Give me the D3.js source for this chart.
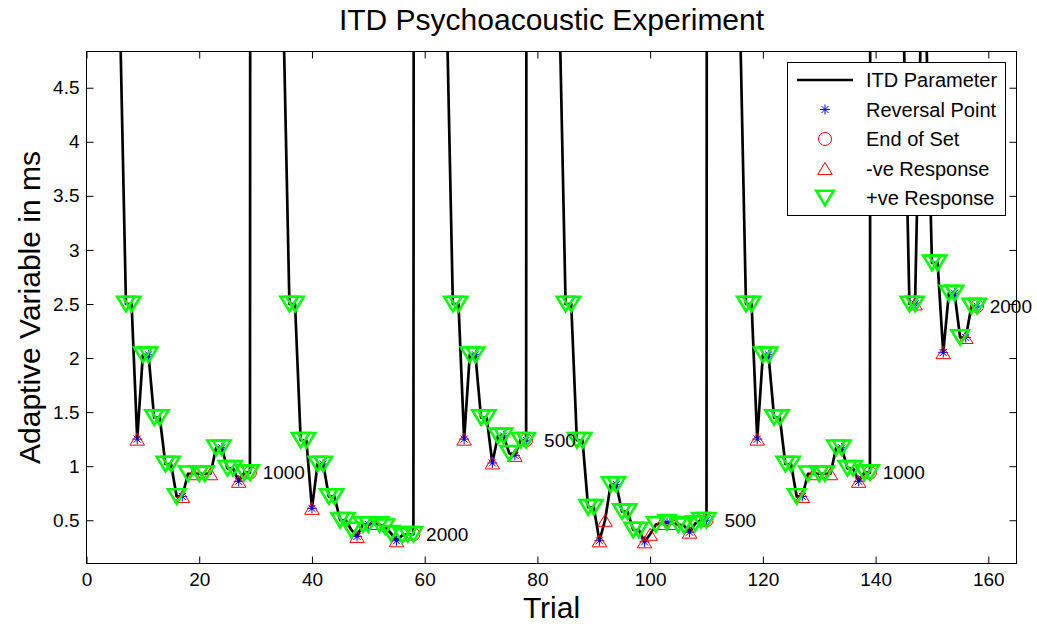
<!DOCTYPE html>
<html lang="en">
<head>
<meta charset="utf-8">
<title>ITD Psychoacoustic Experiment</title>
<script src="https://cdnjs.cloudflare.com/ajax/libs/d3/7.8.5/d3.min.js"></script>
<style>
  body { margin: 0; background: #fff; }
  text { font-family: "Liberation Sans", Arial, Helvetica, sans-serif; fill: #000; }
</style>
</head>
<body>
<svg id="chart" width="1037" height="629"></svg>
<script>
// trial number of every point of the ITD parameter line
// (the 5 and 100 values are the off-scale jumps between sets)
var trial = [
  6, 7, 8, 9, 10, 11, 12, 13, 14, 15, 16, 17, 18, 19, 20, 21, 22, 23, 24, 25, 26, 27, 28, 29, 30,
  35, 36, 37, 38, 39, 40, 41, 42, 43, 44, 45, 46, 47, 48, 49, 50, 51, 52, 53, 54, 55, 56, 57, 58, 59,
  64, 65, 66, 67, 68, 69, 70, 71, 72, 73, 74, 75, 76, 77, 78, 79,
  84, 85, 86, 87, 88, 89, 90, 91, 92, 93, 94, 95, 96, 97, 98, 99, 100, 101, 102, 103, 104, 105, 106, 107, 108, 109, 110, 111,
  116, 117, 118, 119, 120, 121, 122, 123, 124, 125, 126, 127, 128, 129, 130, 131, 132, 133, 134, 135, 136, 137, 138, 139, 140,
  145, 146, 147, 148, 149, 150, 151, 152, 153, 154, 155, 156, 157, 158
];
// adaptive variable in ms
var itd = [
  5, 2.5, 2.5, 1.25, 2.03, 2.03, 1.45, 1.45, 1.02, 1.02, 0.72, 0.72, 0.93, 0.93, 0.93, 0.93, 0.93, 1.17, 1.17, 0.98, 0.98, 0.86, 0.94, 0.94, 100,
  5, 2.5, 2.5, 1.24, 1.24, 0.61, 1.02, 1.02, 0.72, 0.72, 0.5, 0.5, 0.41, 0.35, 0.46, 0.46, 0.47, 0.46, 0.44, 0.38, 0.31, 0.36, 0.37, 0.37, 100,
  5, 2.5, 2.5, 1.25, 2.03, 2.03, 1.45, 1.45, 1.03, 1.28, 1.28, 1.12, 1.1, 1.24, 1.24, 100,
  5, 2.5, 2.5, 1.24, 1.24, 0.62, 0.62, 0.31, 0.5, 0.83, 0.83, 0.58, 0.58, 0.41, 0.41, 0.3, 0.37, 0.46, 0.47, 0.48, 0.47, 0.46, 0.45, 0.39, 0.47, 0.5, 0.5, 100,
  5, 2.5, 2.5, 1.25, 2.03, 2.03, 1.45, 1.45, 1.02, 1.02, 0.72, 0.72, 0.93, 0.93, 0.93, 0.93, 0.93, 1.17, 1.17, 0.98, 0.98, 0.86, 0.94, 0.94, 100,
  5, 2.5, 2.5, 5, 5, 2.88, 2.88, 2.05, 2.6, 2.6, 2.19, 2.19, 2.48, 2.48
];
// response at each trial: P = +ve, N = -ve, B = both, "" = none
var resp = [
  "", "P", "P", "N", "P", "P", "P", "P", "P", "P", "P", "N", "P", "N", "P", "P", "N", "P", "P", "P", "P", "N", "P", "P", "",
  "", "P", "P", "P", "P", "N", "P", "P", "P", "P", "P", "P", "P", "N", "P", "P", "N", "P", "P", "P", "N", "P", "P", "P", "",
  "", "P", "P", "N", "P", "P", "P", "P", "N", "P", "P", "P", "N", "P", "P", "",
  "", "P", "P", "P", "P", "P", "P", "N", "N", "P", "P", "P", "P", "P", "P", "N", "N", "P", "N", "P", "N", "P", "P", "N", "P", "P", "P", "",
  "", "P", "P", "N", "P", "P", "P", "P", "P", "P", "P", "N", "P", "N", "P", "P", "N", "P", "P", "P", "P", "N", "P", "P", "",
  "", "P", "B", "", "", "P", "P", "N", "P", "P", "P", "N", "P", "P"
];
var reversals = [9, 11, 17, 24, 27, 40, 42, 48, 50, 55, 67, 69, 72, 74, 76, 78,
  91, 94, 99, 103, 107, 110, 119, 121, 127, 134, 137, 147, 152, 154, 156, 158];
var setEnd = [29, 58, 78, 110, 139, 158];
var setFreq = ["1000", "2000", "500", "500", "1000", "2000"];
var xTicks = [0, 20, 40, 60, 80, 100, 120, 140, 160];
var yTicks = [0.5, 1, 1.5, 2, 2.5, 3, 3.5, 4, 4.5];
var legendLabels = ["ITD Parameter", "Reversal Point", "End of Set", "-ve Response", "+ve Response"];

(function () {
  var pts = trial.map(function (t, i) { return { t: t, v: itd[i], r: resp[i] }; });
  function valueAt(t) { return itd[trial.indexOf(t)]; }

  var svg = d3.select("#chart");
  var pLeft = 86.5, pRight = 1016.5, pTop = 51.5, pBottom = 563.5;
  var x = d3.scaleLinear().domain([0, 165]).range([pLeft, pRight]);
  var y = d3.scaleLinear().domain([0.1, 4.835]).range([pBottom, pTop]);

  svg.append("rect").attr("width", 1037).attr("height", 629).attr("fill", "#fff");

  svg.append("defs").append("clipPath").attr("id", "plotclip")
    .append("rect").attr("x", pLeft).attr("y", pTop).attr("width", pRight - pLeft).attr("height", pBottom - pTop);

  // axes, ticks pointing inwards on all four sides
  function styleAxis(g) {
    g.selectAll("text").attr("font-size", 19).attr("font-family", "Liberation Sans, Arial, sans-serif");
    g.selectAll("line").attr("stroke", "#000");
    g.select(".domain").remove();
  }
  svg.append("g").attr("transform", "translate(0," + pBottom + ")")
    .call(d3.axisBottom(x).tickValues(xTicks).tickSizeInner(-7).tickSizeOuter(0).tickPadding(9.5))
    .call(styleAxis);
  svg.append("g").attr("transform", "translate(0," + pTop + ")")
    .call(d3.axisTop(x).tickValues(xTicks).tickSizeInner(-7).tickSizeOuter(0).tickFormat(""))
    .call(styleAxis);
  svg.append("g").attr("transform", "translate(" + pLeft + ",0)")
    .call(d3.axisLeft(y).tickValues(yTicks).tickSizeInner(-7).tickSizeOuter(0).tickPadding(7).tickFormat(d3.format("")))
    .call(styleAxis);
  svg.append("g").attr("transform", "translate(" + pRight + ",0)")
    .call(d3.axisRight(y).tickValues(yTicks).tickSizeInner(-7).tickSizeOuter(0).tickFormat(""))
    .call(styleAxis);

  svg.append("rect").attr("x", pLeft).attr("y", pTop).attr("width", pRight - pLeft).attr("height", pBottom - pTop)
    .attr("fill", "none").attr("stroke", "#000").attr("stroke-width", 1);

  // the ITD parameter line
  var line = d3.line().x(function (d) { return x(d.t); }).y(function (d) { return y(d.v); });
  svg.append("path").datum(pts).attr("clip-path", "url(#plotclip)")
    .attr("d", line).attr("fill", "none").attr("stroke", "#000")
    .attr("stroke-width", 2.7).attr("stroke-linejoin", "round");

  // marker shapes
  function starPath(s) {
    var d = s * 0.7;
    return "M" + (-s) + ",0L" + s + ",0M0," + (-s) + "L0," + s +
      "M" + (-d) + "," + (-d) + "L" + d + "," + d + "M" + (-d) + "," + d + "L" + d + "," + (-d);
  }
  function triUp(w, h) { return "M0," + (-h / 2) + "L" + (w / 2) + "," + (h / 2) + "L" + (-w / 2) + "," + (h / 2) + "Z"; }
  function triDown(w, h) { return "M" + (-w / 2) + "," + (-h / 2) + "L" + (w / 2) + "," + (-h / 2) + "L0," + (h / 2) + "Z"; }

  var markers = {
    star: function (g) { g.append("path").attr("d", starPath(5)).attr("fill", "none").attr("stroke", "#0000ff").attr("stroke-width", 1); },
    circle: function (g) { g.append("circle").attr("r", 6.5).attr("fill", "none").attr("stroke", "#ff0000").attr("stroke-width", 1); },
    neg: function (g) { g.append("path").attr("d", triUp(14.5, 12)).attr("fill", "none").attr("stroke", "#ff0000").attr("stroke-width", 1); },
    pos: function (g) { g.append("path").attr("d", triDown(17.5, 14.5)).attr("fill", "none").attr("stroke", "#00ff00").attr("stroke-width", 2.6).attr("stroke-linejoin", "miter"); }
  };

  function drawMarkers(data, kind) {
    svg.append("g").selectAll("g").data(data).enter().append("g")
      .attr("transform", function (d) { return "translate(" + x(d.t) + "," + y(d.v) + ")"; })
      .each(function () { markers[kind](d3.select(this)); });
  }

  drawMarkers(reversals.map(function (t) { return { t: t, v: valueAt(t) }; }), "star");
  drawMarkers(setEnd.map(function (t) { return { t: t, v: valueAt(t) }; }), "circle");
  drawMarkers(pts.filter(function (d) { return d.r === "N" || d.r === "B"; }), "neg");
  drawMarkers(pts.filter(function (d) { return d.r === "P" || d.r === "B"; }), "pos");

  // frequency label after each set
  svg.append("g").selectAll("text").data(setEnd).enter().append("text")
    .attr("x", function (t) { return x(t + 6); })
    .attr("y", function (t) { return y(valueAt(t)); })
    .attr("dy", "0.35em").attr("text-anchor", "middle").attr("font-size", 19)
    .text(function (t, i) { return setFreq[i]; });

  // titles
  svg.append("text").attr("x", (pLeft + pRight) / 2).attr("y", 30).attr("text-anchor", "middle")
    .attr("font-size", 30).text("ITD Psychoacoustic Experiment");
  svg.append("text").attr("x", (pLeft + pRight) / 2).attr("y", 618).attr("text-anchor", "middle")
    .attr("font-size", 30).text("Trial");
  svg.append("text").attr("transform", "translate(40," + ((pTop + pBottom) / 2) + ") rotate(-90)")
    .attr("text-anchor", "middle").attr("font-size", 30).text("Adaptive Variable in ms");

  // legend
  var lg = svg.append("g");
  lg.append("rect").attr("x", 787.5).attr("y", 62.5).attr("width", 218).attr("height", 153)
    .attr("fill", "#fff").attr("stroke", "#000").attr("stroke-width", 1);
  var kinds = ["line", "star", "circle", "neg", "pos"];
  legendLabels.forEach(function (lab, i) {
    var ry = 80 + i * 29.5;
    var row = lg.append("g").attr("transform", "translate(825," + ry + ")");
    if (kinds[i] === "line") {
      row.append("line").attr("x1", -28).attr("x2", 28).attr("stroke", "#000").attr("stroke-width", 2.7);
    } else {
      markers[kinds[i]](row);
    }
    lg.append("text").attr("x", 866).attr("y", ry).attr("dy", "0.35em").attr("font-size", 20).text(lab);
  });
})();
</script>
</body>
</html>
